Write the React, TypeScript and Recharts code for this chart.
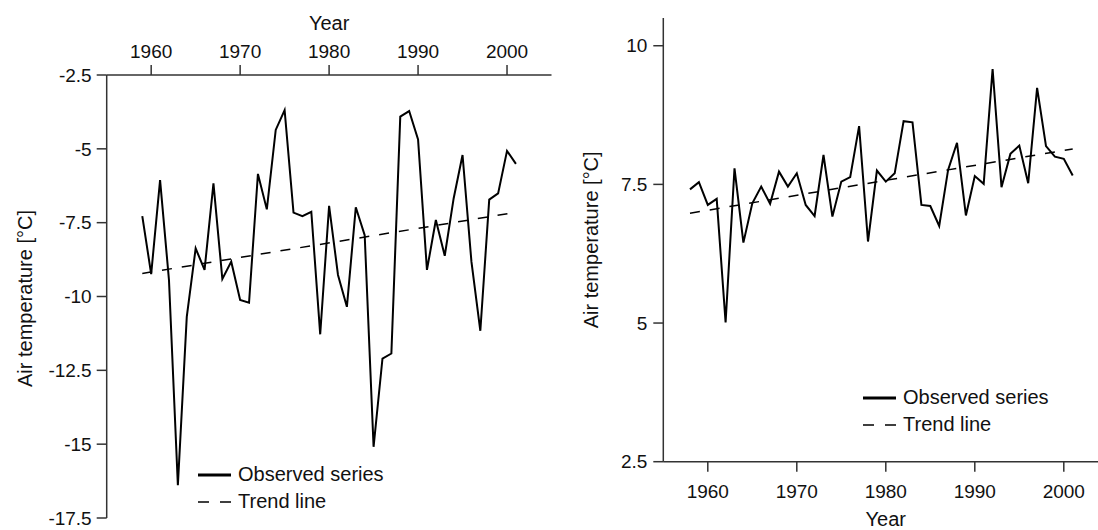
import { LineChart, Line, XAxis, YAxis, Legend } from "recharts";

const FONT = '"Liberation Sans", Arial, Helvetica, sans-serif';
const INK = "#111";
const AXIS = "#333";

// --- Station A (winter, sub-zero) ---
const yearsA = [
  1959, 1960, 1961, 1962, 1963, 1964, 1965, 1966, 1967, 1968, 1969, 1970,
  1971, 1972, 1973, 1974, 1975, 1976, 1977, 1978, 1979, 1980, 1981, 1982,
  1983, 1984, 1985, 1986, 1987, 1988, 1989, 1990, 1991, 1992, 1993, 1994,
  1995, 1996, 1997, 1998, 1999, 2000, 2001,
];
const tempsA = [
  -7.28, -9.24, -6.06, -9.44, -16.39, -10.69, -8.37, -9.1, -6.17, -9.41,
  -8.82, -10.12, -10.21, -5.85, -7.05, -4.36, -3.69, -7.16, -7.28, -7.13,
  -11.28, -6.93, -9.27, -10.35, -6.98, -7.92, -15.09, -12.1, -11.93, -3.91,
  -3.72, -4.68, -9.1, -7.41, -8.62, -6.68, -5.21, -8.82, -11.16, -6.72,
  -6.51, -5.07, -5.51,
];
const trendYearsA = [1959, 2001];
const trendTempsA = [-9.22, -7.15];
const yTicksA = [-2.5, -5, -7.5, -10, -12.5, -15, -17.5];

// --- Station B (annual mean) ---
const yearsB = [
  1958, 1959, 1960, 1961, 1962, 1963, 1964, 1965, 1966, 1967, 1968, 1969,
  1970, 1971, 1972, 1973, 1974, 1975, 1976, 1977, 1978, 1979, 1980, 1981,
  1982, 1983, 1984, 1985, 1986, 1987, 1988, 1989, 1990, 1991, 1992, 1993,
  1994, 1995, 1996, 1997, 1998, 1999, 2000, 2001,
];
const tempsB = [
  7.41, 7.54, 7.13, 7.24, 5.01, 7.79, 6.45, 7.16, 7.46, 7.15, 7.73, 7.46,
  7.7, 7.13, 6.93, 8.03, 6.92, 7.55, 7.63, 8.55, 6.47, 7.75, 7.55, 7.7,
  8.64, 8.62, 7.13, 7.11, 6.75, 7.76, 8.25, 6.94, 7.65, 7.51, 9.58, 7.45,
  8.05, 8.2, 7.52, 9.24, 8.19, 8.0, 7.96, 7.66,
];
const trendYearsB = [1958, 2001];
const trendTempsB = [6.98, 8.14];
const yTicksB = [2.5, 5, 7.5, 10];

const yearTicks = [1960, 1970, 1980, 1990, 2000];
const yearDomain: [number, number] = [1955, 2005];

const toRows = (years: number[], temps: number[]) =>
  years.map((year, i) => ({ year, temp: temps[i] }));

const observedA = toRows(yearsA, tempsA);
const trendA = toRows(trendYearsA, trendTempsA);
const observedB = toRows(yearsB, tempsB);
const trendB = toRows(trendYearsB, trendTempsB);

const tickStyle = { fill: INK, fontSize: 19, fontFamily: FONT };
const axisLineStyle = { stroke: AXIS, strokeWidth: 1.5 };

function SeriesLegend(props: { payload?: any[] }) {
  const items = props.payload ?? [];
  return (
    <div style={{ fontFamily: FONT, fontSize: 20, color: INK }}>
      {items.map((entry) => {
        const dashed = entry.payload?.strokeDasharray;
        return (
          <div
            key={entry.value}
            style={{ display: "flex", alignItems: "center", height: 27 }}
          >
            <svg width={40} height={10} style={{ display: "block" }}>
              <line
                x1={0}
                x2={33}
                y1={5}
                y2={5}
                stroke="#000"
                strokeWidth={dashed ? 1.5 : 3}
                strokeDasharray={dashed ? "11 11" : undefined}
              />
            </svg>
            <span style={{ lineHeight: "27px" }}>{entry.value}</span>
          </div>
        );
      })}
    </div>
  );
}

function yTitle(dx: number, dy: number) {
  return (props: any) => {
    const vb = props.viewBox ?? {};
    const cx = vb.x + dx;
    const cy = vb.y + vb.height / 2 + dy;
    return (
      <text
        x={cx}
        y={cy}
        transform={`rotate(-90, ${cx}, ${cy})`}
        textAnchor="middle"
        fill={INK}
        fontSize={20}
        fontFamily={FONT}
      >
        Air temperature [°C]
      </text>
    );
  };
}

function xTitle(baseline: number) {
  return (props: any) => {
    const vb = props.viewBox ?? {};
    return (
      <text
        x={vb.x + vb.width / 2}
        y={vb.y + baseline}
        textAnchor="middle"
        fill={INK}
        fontSize={20}
        fontFamily={FONT}
      >
        Year
      </text>
    );
  };
}

export default function App() {
  return (
    <div
      style={{
        position: "absolute",
        left: 0,
        top: 0,
        width: 1098,
        height: 530,
        overflow: "hidden",
        background: "#fff",
      }}
    >
      <div style={{ position: "absolute", left: 0, top: 0 }}>
        <LineChart
          width={560}
          height={530}
          margin={{ top: 0, right: 8.5, bottom: 12, left: 6.7 }}
        >
          <XAxis
            type="number"
            dataKey="year"
            orientation="top"
            height={75}
            domain={yearDomain}
            ticks={yearTicks}
            interval={0}
            tick={tickStyle}
            tickSize={10}
            tickMargin={7}
            axisLine={axisLineStyle}
            tickLine={axisLineStyle}
            label={xTitle(30)}
          />
          <YAxis
            type="number"
            width={100}
            domain={[-17.5, -2.5]}
            ticks={yTicksA}
            interval={0}
            tick={tickStyle}
            tickSize={10}
            tickMargin={5}
            axisLine={axisLineStyle}
            tickLine={axisLineStyle}
            label={yTitle(25, 2)}
          />
          <Legend
            layout="vertical"
            align="center"
            verticalAlign="middle"
            wrapperStyle={{ left: 198, top: 461 }}
            content={<SeriesLegend />}
          />
          <Line
            data={observedA}
            dataKey="temp"
            name="Observed series"
            type="linear"
            stroke="#000"
            strokeWidth={2}
            dot={false}
            activeDot={false}
            isAnimationActive={false}
          />
          <Line
            data={trendA}
            dataKey="temp"
            name="Trend line"
            type="linear"
            stroke="#000"
            strokeWidth={1.5}
            strokeDasharray="10 10"
            dot={false}
            activeDot={false}
            isAnimationActive={false}
          />
        </LineChart>
      </div>

      <div style={{ position: "absolute", left: 560, top: 0 }}>
        <LineChart
          width={560}
          height={530}
          margin={{ top: 18, right: 11.7, bottom: 0, left: 3.3 }}
        >
          <XAxis
            type="number"
            dataKey="year"
            orientation="bottom"
            height={68.3}
            domain={yearDomain}
            ticks={yearTicks}
            interval={0}
            tick={tickStyle}
            tickSize={10}
            tickMargin={13}
            axisLine={axisLineStyle}
            tickLine={axisLineStyle}
            label={xTitle(64)}
          />
          <YAxis
            type="number"
            width={100}
            domain={[2.5, 10.5]}
            ticks={yTicksB}
            interval={0}
            tick={tickStyle}
            tickSize={10}
            tickMargin={6}
            axisLine={axisLineStyle}
            tickLine={axisLineStyle}
            label={yTitle(34.7, 0)}
          />
          <Legend
            layout="vertical"
            align="center"
            verticalAlign="middle"
            wrapperStyle={{ left: 303, top: 384 }}
            content={<SeriesLegend />}
          />
          <Line
            data={observedB}
            dataKey="temp"
            name="Observed series"
            type="linear"
            stroke="#000"
            strokeWidth={2}
            dot={false}
            activeDot={false}
            isAnimationActive={false}
          />
          <Line
            data={trendB}
            dataKey="temp"
            name="Trend line"
            type="linear"
            stroke="#000"
            strokeWidth={1.5}
            strokeDasharray="10 10"
            dot={false}
            activeDot={false}
            isAnimationActive={false}
          />
        </LineChart>
      </div>
    </div>
  );
}
